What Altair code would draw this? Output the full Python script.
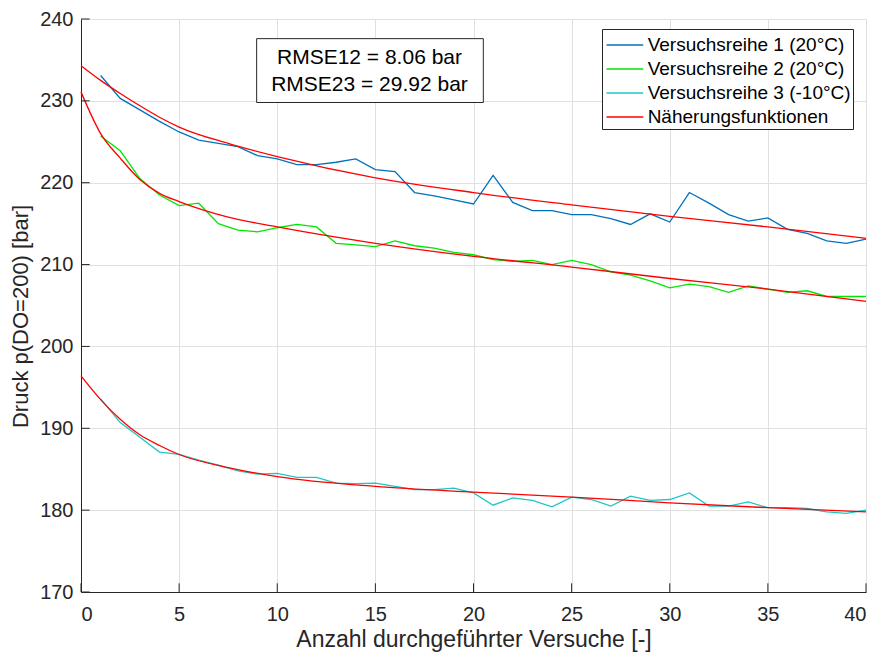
import altair as alt
import pandas as pd

# Measured pressure per trial number
trial = list(range(1, 41))
reihe1 = [233.1, 230.3, 228.9, 227.5, 226.2, 225.2, 224.8, 224.4, 223.3, 222.9,
          222.2, 222.2, 222.5, 222.9, 221.6, 221.35, 218.8, 218.4, 217.9, 217.4,
          220.9, 217.6, 216.6, 216.6, 216.1, 216.1, 215.6, 214.9, 216.2, 215.2,
          218.8, 217.5, 216.1, 215.3, 215.7, 214.3, 213.8, 212.9, 212.6, 213.1]
reihe2 = [225.7, 223.9, 220.5, 218.5, 217.2, 217.5, 215.0, 214.2, 214.0, 214.5,
          214.9, 214.6, 212.6, 212.4, 212.2, 212.9, 212.3, 212.0, 211.5, 211.2,
          210.6, 210.4, 210.5, 210.0, 210.5, 210.0, 209.1, 208.7, 208.0, 207.15,
          207.6, 207.3, 206.6, 207.4, 207.0, 206.6, 206.8, 206.1, 206.1, 206.1]
reihe3 = [193.6, 190.7, 188.9, 187.1, 186.8, 186.1, 185.5, 184.8, 184.4, 184.5,
          184.0, 184.0, 183.3, 183.25, 183.3, 182.9, 182.5, 182.5, 182.7, 182.1,
          180.6, 181.5, 181.2, 180.4, 181.6, 181.3, 180.5, 181.7, 181.2, 181.3,
          182.1, 180.5, 180.5, 181.0, 180.3, 180.3, 180.2, 179.8, 179.6, 180.0]

# Approximation curves, sampled along the trial axis
fit_x = [0, 1, 2, 3, 4, 5, 7.5, 10, 15, 20, 25, 30, 35, 40]
fit1 = [234.3, 232.5, 230.9, 229.4, 228.0, 226.8, 224.8, 223.2, 220.6, 218.8, 217.3, 215.9, 214.6, 213.2]
fit2 = [231.1, 226.0, 223.0, 220.4, 218.7, 217.7, 215.8, 214.6, 212.6, 211.0, 209.7, 208.3, 207.0, 205.5]
fit3 = [196.4, 193.5, 191.1, 189.2, 187.9, 186.8, 185.2, 184.1, 182.9, 182.2, 181.6, 180.9, 180.3, 179.8]

series_names = ["Versuchsreihe 1 (20°C)", "Versuchsreihe 2 (20°C)",
                "Versuchsreihe 3 (-10°C)", "Näherungsfunktionen"]
series_colors = ["#0072BD", "#00E600", "#1CC7C7", "#FF0000"]

x_ticks = [0, 5, 10, 15, 20, 25, 30, 35, 40]
y_ticks = [170, 180, 190, 200, 210, 220, 230, 240]

rmse_lines = ["RMSE12 = 8.06 bar", "RMSE23 = 29.92 bar"]

FONT = "Liberation Sans"
INK = "#262626"

meas_rows = []
for name, vals in zip(series_names[:3], [reihe1, reihe2, reihe3]):
    for t, v in zip(trial, vals):
        meas_rows.append({"x": t, "y": v, "serie": name, "kurve": name})
meas = pd.DataFrame(meas_rows)

fit_rows = []
for i, vals in enumerate([fit1, fit2, fit3]):
    for t, v in zip(fit_x, vals):
        fit_rows.append({"x": t, "y": v, "serie": series_names[3], "kurve": f"fit{i + 1}"})
fits = pd.DataFrame(fit_rows)

x_enc = alt.X("x:Q",
              scale=alt.Scale(domain=[0, 40], nice=False, zero=False),
              axis=alt.Axis(values=x_ticks, title="Anzahl durchgeführter Versuche [-]",
                            labelPadding=12, titlePadding=4, titleFontSize=23))
y_enc = alt.Y("y:Q",
              scale=alt.Scale(domain=[170, 240], nice=False, zero=False),
              axis=alt.Axis(values=y_ticks, title="Druck p(DO=200) [bar]",
                            labelPadding=8, titlePadding=7, titleY=297))
color_enc = alt.Color("serie:N",
                      scale=alt.Scale(domain=series_names, range=series_colors),
                      legend=alt.Legend(title=None))

meas_layer = alt.Chart(meas).mark_line(strokeWidth=1.3).encode(
    x=x_enc, y=y_enc, color=color_enc, detail="kurve:N")

fit_layer = alt.Chart(fits).mark_line(strokeWidth=1.3, interpolate="monotone").encode(
    x="x:Q", y="y:Q", color=color_enc, detail="kurve:N")

# Inward tick marks along the bottom and left axes
xt = alt.Chart(pd.DataFrame({"x": x_ticks})).mark_rule(color=INK, strokeWidth=1).encode(
    x="x:Q", y=alt.value(573), y2=alt.value(564.3))
yt = alt.Chart(pd.DataFrame({"y": y_ticks})).mark_rule(color=INK, strokeWidth=1).encode(
    y="y:Q", x=alt.value(0), x2=alt.value(8.7))

# RMSE annotation box
one = pd.DataFrame({"k": [0]})
box = alt.Chart(one).mark_rect(fill="white", stroke=INK, strokeWidth=1).encode(
    x=alt.datum(8.95), x2=alt.datum(20.5), y=alt.datum(237.6), y2=alt.datum(229.8))
txt = alt.Chart(pd.DataFrame({"t": rmse_lines, "yy": [235.24, 231.98]})).mark_text(
    font=FONT, fontSize=21, color="black", align="center", baseline="middle").encode(
    x=alt.datum(14.7), y="yy:Q", text="t:N")

chart = alt.layer(meas_layer, fit_layer, xt, yt, box, txt).properties(
    width=785, height=573,
    autosize=alt.AutoSizeParams(type="none"),
    padding={"left": 81, "top": 19, "right": 14, "bottom": 65},
    background="white",
).configure_view(strokeWidth=0).configure_axis(
    domainColor=INK, domainWidth=1, ticks=False,
    gridColor="#E0E0E0", gridWidth=1,
    labelFont=FONT, labelFontSize=20, labelColor=INK,
    titleFont=FONT, titleFontSize=22, titleFontWeight="normal", titleColor=INK,
).configure_legend(
    orient="none", legendX=521, legendY=10,
    strokeColor=INK, fillColor="white", padding=2, cornerRadius=0,
    symbolType="M-1.385,0H1.385", symbolSize=702, symbolStrokeWidth=1.5,
    symbolOffset=6.85,
    labelFont=FONT, labelFontSize=19, labelColor="black", labelOffset=8.8,
    labelLimit=0, rowPadding=0,
)

chart.save("out.html", embed_options={"renderer": "svg", "actions": False})
